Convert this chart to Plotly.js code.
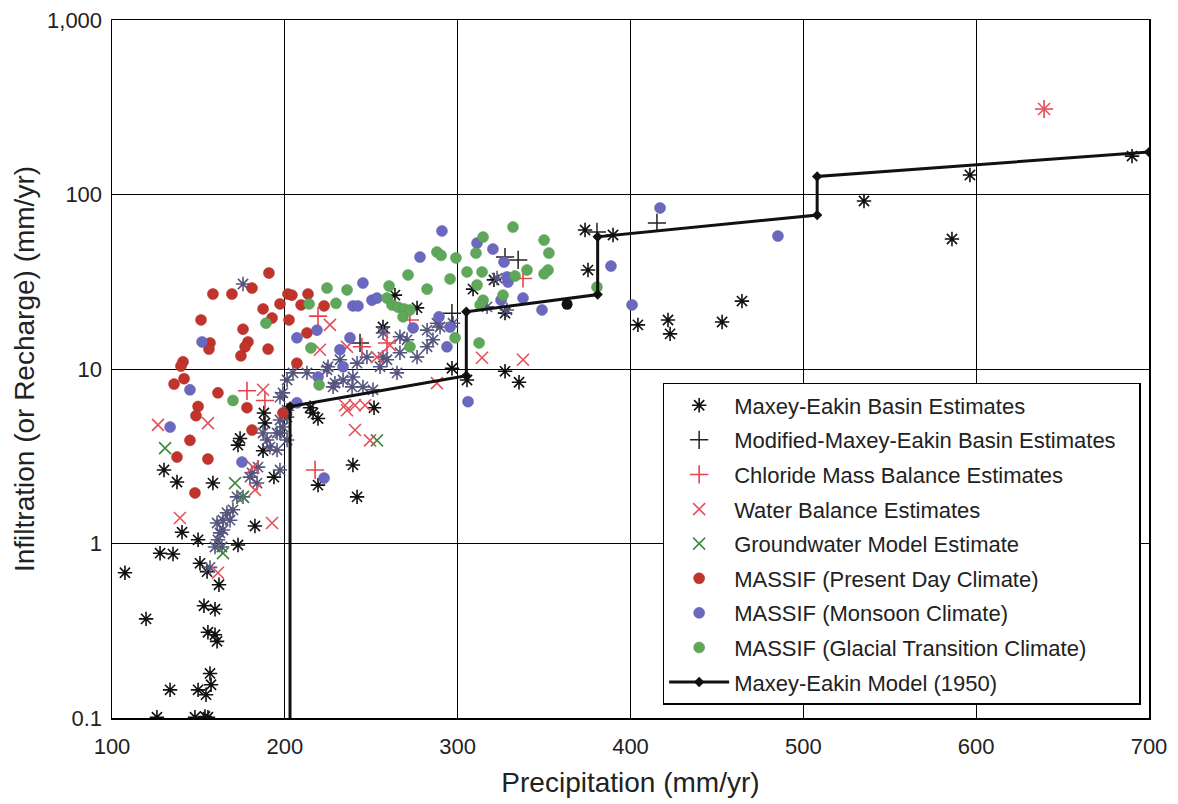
<!DOCTYPE html>
<html>
<head>
<meta charset="utf-8">
<script src="https://cdn.plot.ly/plotly-3.0.1.min.js"></script>
<style>html,body{margin:0;padding:0;background:#fff;}#chart{width:1178px;height:804px;}</style>
</head>
<body>
<div id="chart"></div>
<script>
// Maxey-Eakin Basin Estimates (black asterisks)
const meBasinX = [107.5,119.7,127.8,135.3,150.9,155.0,161.9,153.2,159.6,155.5,159.6,160.8,156.7,157.3,149.8,154.4,133.6,126.0,148.0,153.8,155.5,130.1,137.6,158.4,172.9,187.4,193.7,182.7,149.8,140.5,172.9,187.9,188.5,174.1,239.4,241.8,219.2,216.3,219.2,214.6,251.6,256.8,276.5,263.7,296.7,305.4,327.4,335.5,321.0,327.4,308.9,373.7,389.9,375.4,404.3,421.7,422.9,453.0,464.5,535.1,586.0,596.4,690.2];
const meBasinY = [0.68,0.37,0.88,0.87,0.77,0.69,0.58,0.44,0.42,0.31,0.30,0.275,0.18,0.155,0.145,0.136,0.145,0.101,0.101,0.102,0.101,2.64,2.25,2.22,3.66,3.4,2.4,1.26,1.05,1.16,0.98,5.6,4.9,4.0,2.82,1.85,2.16,5.6,5.2,6.0,6.0,17.4,22.4,26.5,10.1,8.65,9.7,8.4,32.4,20.9,28.7,62.6,58.6,36.9,17.9,19.1,15.9,18.6,24.5,91.8,55.6,129.3,166];
// Maxey-Eakin Basin Estimates in the dense cluster (drawn in slate tone)
const meClusterX = [159.6,161.3,164.2,162.5,160.8,164.2,166.5,168.3,170.0,172.3,175.8,179.8,181.0,183.9,184.5,187.4,189.7,191.4,195.5,197.2,198.9,201.3,201.3,197.2,156.7,163.6,195.5,197.2,201.3,197.2,198.9,201.3,204.7,212.8,224.4,227.9,233.7,239.4,245.2,251.0,231.9,241.8,247.5,255.1,259.1,266.6,270.7,282.3,285.7,289.8,276.5,266.6,256.8,264.9,225.0,229.0,256.8,297.3,282.3,238.9,288.0,322.8,328.5,317.0,175.8];
const meClusterY = [0.955,1.05,1.195,1.15,1.31,1.36,1.50,1.36,1.56,1.85,1.85,2.40,2.54,2.22,2.74,4.3,3.92,3.57,3.43,4.3,4.65,5.3,3.92,2.64,0.73,0.955,4.3,5.1,5.8,6.9,7.3,8.65,9.5,9.5,9.9,7.9,8.65,9.0,7.9,7.6,11.3,10.8,11.7,10.3,11.3,12.4,14.7,16.7,14.7,17.4,11.7,15.3,16.1,9.5,10.3,8.3,11.7,18.3,13.4,7.9,18.3,33.2,21.8,22.7,30.7];
// Modified-Maxey-Eakin Basin Estimates
const modMeX = [380.6,415.3,327.4,335.0,296.7,243.5];
const modMeY = [61,68.7,43.8,42.2,20.9,14.1];
// Chloride Mass Balance Estimates
const chlorideX = [178.1,219.2,188.5,217.5,259.1,244.6,337.8,272.4,639.3];
const chlorideY = [7.5,20.1,6.6,2.64,14.1,13.4,33.0,19.1,309];
// Water Balance Estimates
const waterX = [226.1,220.3,126.6,155.5,187.4,139.3,192.6,182.7,181.6,161.3,236.0,236.0,234.8,240.6,246.4,240.6,249.3,288.0,314.1,337.8,260.8,253.3,639.3];
const waterY = [17.9,12.9,4.78,4.9,7.6,1.40,1.31,2.03,2.74,0.68,5.8,13.4,6.2,6.2,6.2,4.47,3.9,8.3,11.6,11.3,13.7,11.7,309];
// Groundwater Model Estimate
const gwX = [130.7,171.2,175.8,164.2,253.3];
const gwY = [3.52,2.22,1.85,0.88,3.9];
// MASSIF (Present Day Climate)
const presentX = [190.8,181.0,158.4,169.4,201.8,204.1,213.4,197.2,187.4,209.4,222.7,192.6,202.4,151.5,175.8,212.8,156.7,156.1,178.7,177.0,174.6,190.3,207.0,141.1,139.9,141.7,135.9,161.3,149.8,148.6,178.1,198.9,181.0,145.1,137.6,155.5,148.0];
const presentY = [35.5,29.1,26.9,26.9,26.9,26.5,26.9,23.6,22.1,23.3,23.0,19.6,19.1,19.1,16.9,16.1,14.1,13.0,14.3,13.4,11.9,13.0,10.8,11.0,10.4,8.8,8.2,7.3,6.1,5.4,6.0,5.6,4.47,3.9,3.13,3.05,1.95];
// MASSIF (Monsoon Climate)
const monsoonX = [145.1,152.1,207.0,218.6,207.0,133.6,290.9,278.2,245.2,239.4,242.3,250.4,253.3,237.7,274.2,293.8,233.7,311.2,320.4,326.8,329.1,337.8,348.8,295.6,306.0,289.2,328.5,388.7,417.1,485.3,400.9,222.7,175.2,231.9,219.2,325.1];
const monsoonY = [7.6,14.3,15.1,16.7,6.4,4.65,61.8,43.8,31.1,23.0,23.0,24.8,25.5,15.1,17.2,13.4,10.3,52.7,48.7,41.0,31.5,25.5,21.8,17.4,6.5,19.9,33.7,38.9,83.7,57.8,23.3,2.37,2.93,12.9,9.0,24.8];
// MASSIF (Glacial Transition Climate)
const glacialX = [224.4,236.0,214.0,229.6,189.1,215.1,170.0,219.8,260.3,271.3,288.0,290.4,282.3,295.6,299.0,259.1,262.0,265.5,269.0,272.4,268.4,272.4,298.5,332.0,314.7,310.6,305.4,314.1,350.0,352.8,352.3,350.0,340.1,333.2,311.2,326.2,314.7,313.0,380.6,312.4];
const glacialY = [29.1,28.4,23.6,23.8,18.3,13.2,6.6,8.1,29.9,34.6,46.8,44.8,28.7,32.8,43.3,25.5,23.3,22.6,22.1,21.8,19.9,13.4,15.1,65.1,57.0,46.2,36.0,36.0,54.8,46.2,36.9,35.1,36.9,34.1,30.3,26.5,24.8,23.3,29.5,14.1];
// single black dot
const blackDotX = [363.3];
const blackDotY = [23.5];
// Maxey-Eakin Model (1950)
const modelX = [203,203,305,305,381,381,508,508,700];
const modelY = [0.01,6.1,9.15,21.3,26.7,57.2,76.2,127,175];
// Axis ticks
const xTicks = [100,200,300,400,500,600,700];
const yTickVals = [0.1,1,10,100,1000];
const yTickText = ['0.1','1','10','100','1,000'];

const FONT = 'Liberation Sans, Arial, sans-serif';
const traces = [
  {x: meBasinX, y: meBasinY, type:'scatter', mode:'markers', name:'Maxey-Eakin Basin Estimates', legendgroup:'g1',
   marker:{symbol:'asterisk-open', size:12, color:'#111', line:{color:'#111', width:1.6}}},
  {x: meClusterX, y: meClusterY, type:'scatter', mode:'markers', name:'Maxey-Eakin Basin Estimates', legendgroup:'g1', showlegend:false,
   marker:{symbol:'asterisk-open', size:12, color:'#55557e', line:{color:'#55557e', width:1.6}}},
  {x: modMeX, y: modMeY, type:'scatter', mode:'markers', name:'Modified-Maxey-Eakin Basin Estimates&nbsp;&nbsp;&nbsp;', legendgroup:'g2',
   marker:{symbol:'cross-thin-open', size:13, color:'#222', line:{color:'#222', width:1.5}}},
  {x: chlorideX, y: chlorideY, type:'scatter', mode:'markers', name:'Chloride Mass Balance Estimates', legendgroup:'g3',
   marker:{symbol:'cross-thin-open', size:13, color:'#e5434f', line:{color:'#e5434f', width:1.6}}},
  {x: waterX, y: waterY, type:'scatter', mode:'markers', name:'Water Balance Estimates', legendgroup:'g4',
   marker:{symbol:'x-thin-open', size:12, color:'#e5505a', line:{color:'#e5505a', width:1.6}}},
  {x: gwX, y: gwY, type:'scatter', mode:'markers', name:'Groundwater Model Estimate', legendgroup:'g5',
   marker:{symbol:'x-thin-open', size:12, color:'#3f8a3f', line:{color:'#3f8a3f', width:1.6}}},
  {x: presentX, y: presentY, type:'scatter', mode:'markers', name:'MASSIF (Present Day Climate)', legendgroup:'g6',
   marker:{symbol:'circle', size:11, color:'#c0342b', line:{color:'#a82820', width:0.5}}},
  {x: monsoonX, y: monsoonY, type:'scatter', mode:'markers', name:'MASSIF (Monsoon Climate)', legendgroup:'g7',
   marker:{symbol:'circle', size:11, color:'#6b68c0', line:{color:'#5a57ad', width:0.5}}},
  {x: glacialX, y: glacialY, type:'scatter', mode:'markers', name:'MASSIF (Glacial Transition Climate)', legendgroup:'g8',
   marker:{symbol:'circle', size:11, color:'#5fa85a', line:{color:'#4e964a', width:0.5}}},
  {x: blackDotX, y: blackDotY, type:'scatter', mode:'markers', showlegend:false, legendgroup:'g9',
   marker:{symbol:'circle', size:11, color:'#111'}},
  {x: modelX, y: modelY, type:'scatter', mode:'lines+markers', name:'Maxey-Eakin Model (1950)', legendgroup:'g10',
   line:{color:'#111', width:3}, marker:{symbol:'diamond', size:8, color:'#111'}}
];

const axisCommon = {
  showline:true, linecolor:'#000', linewidth:1.5, mirror:true,
  showgrid:true, gridcolor:'#000', gridwidth:1,
  ticks:'', zeroline:false,
  tickfont:{family:FONT, size:22, color:'#222'}
};

const layout = {
  width:1178, height:804,
  margin:{l:112, r:29, t:20, b:86},
  paper_bgcolor:'#fff', plot_bgcolor:'#fff',
  font:{family:FONT, color:'#222'},
  showlegend:true,
  xaxis: Object.assign({}, axisCommon, {
    type:'linear', range:[100,700], tickvals:xTicks, ticklabelstandoff:8,
    title:{text:'Precipitation (mm/yr)', font:{family:FONT, size:28, color:'#222'}, standoff:14}
  }),
  yaxis: Object.assign({}, axisCommon, {
    type:'log', range:[-1,3], tickvals:yTickVals, ticktext:yTickText, ticklabelstandoff:4,
    title:{text:'Infiltration (or Recharge) (mm/yr)', font:{family:FONT, size:28, color:'#222'}, standoff:4}
  }),
  legend:{
    x:0.531, y:0.48, xanchor:'left', yanchor:'top',
    bgcolor:'#fff', bordercolor:'#000', borderwidth:1.5,
    font:{family:FONT, size:22, color:'#222'},
    tracegroupgap:3, itemwidth:60
  }
};

Plotly.newPlot('chart', traces, layout, {displayModeBar:false, staticPlot:true});
</script>
</body>
</html>
